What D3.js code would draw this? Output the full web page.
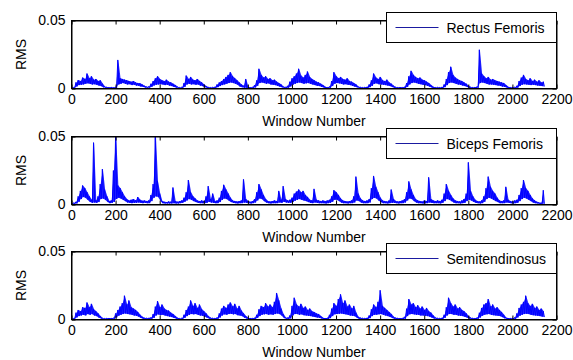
<!DOCTYPE html>
<html lang="en">
<head>
    <meta charset="UTF-8">
    <title>RMS per window | D3</title>
    <style>
        body { margin: 0; background: #fff; }
        svg { display: block; font-family: "Liberation Sans", Arial, sans-serif; }
    </style>
</head>
<body>
    <div class="graph-container"></div>

    <script type="text/javascript" src="https://d3js.org/d3.v7.min.js"></script>
    <script type="text/javascript">
        // RMS, in units of 1e-4 (100 = 0.01).
        // One pair every 10 windows: top of the band (hi) at window w, bottom (lo) at w + 5.
        var windowStep = 10;
        var rmsUnit = 1e-4;

        var rectusHi = [
            5, 8, 45, 62, 55, 80, 70, 110, 75, 90,
            65, 70, 55, 60, 35, 15, 10, 8, 9, 7,
            12, 210, 75, 70, 65, 60, 55, 50, 55, 45,
            40, 38, 30, 20, 12, 15, 35, 55, 75, 90,
            70, 60, 55, 65, 50, 45, 35, 25, 12, 8,
            10, 40, 95, 70, 85, 65, 60, 70, 55, 45,
            30, 18, 10, 8, 9, 12, 30, 45, 55, 70,
            85, 100, 120, 90, 75, 60, 45, 30, 20, 70,
            12, 8, 10, 25, 60, 145, 100, 80, 90, 70,
            75, 60, 65, 50, 40, 30, 15, 10, 20, 50,
            75, 90, 110, 145, 95, 80, 100, 125, 85, 70,
            60, 50, 45, 35, 25, 12, 8, 15, 55, 120,
            90, 75, 85, 70, 65, 75, 55, 50, 40, 30,
            15, 10, 8, 9, 12, 30, 60, 110, 80, 70,
            85, 60, 55, 65, 45, 35, 20, 10, 8, 9,
            8, 12, 40, 90, 130, 100, 85, 75, 80, 65,
            60, 50, 40, 25, 12, 8, 9, 8, 10, 30,
            70, 120, 160, 100, 80, 70, 60, 55, 45, 35,
            20, 10, 8, 9, 15, 285, 110, 90, 75, 85,
            65, 70, 60, 55, 50, 45, 40, 25, 12, 8,
            9, 10, 20, 55, 80, 100, 70, 60, 75, 55,
            65, 50, 60, 45, 50
        ];
        var rectusLo = [
            3, 4, 15, 25, 28, 30, 35, 38, 35, 30,
            32, 28, 22, 18, 10, 6, 4, 3, 3, 3,
            5, 30, 35, 40, 35, 30, 32, 25, 28, 22,
            20, 15, 12, 8, 5, 6, 12, 22, 28, 30,
            32, 30, 25, 28, 22, 18, 12, 8, 5, 3,
            4, 12, 30, 35, 30, 32, 28, 30, 22, 18,
            10, 6, 4, 3, 3, 5, 10, 18, 25, 30,
            35, 40, 45, 40, 35, 28, 15, 10, 6, 5,
            4, 3, 4, 8, 20, 40, 45, 40, 35, 38,
            30, 28, 25, 20, 15, 10, 5, 4, 6, 15,
            28, 35, 40, 45, 40, 35, 38, 40, 35, 30,
            25, 20, 18, 12, 8, 4, 3, 5, 18, 35,
            40, 38, 35, 30, 32, 28, 25, 20, 15, 10,
            5, 4, 3, 3, 4, 10, 20, 35, 38, 32,
            30, 28, 25, 22, 18, 12, 6, 4, 3, 3,
            3, 4, 12, 30, 40, 45, 40, 35, 32, 28,
            25, 20, 15, 8, 4, 3, 3, 3, 4, 10,
            25, 40, 45, 40, 35, 30, 28, 22, 18, 12,
            6, 4, 3, 3, 5, 40, 45, 40, 35, 30,
            30, 28, 25, 22, 20, 15, 12, 8, 4, 3,
            3, 3, 6, 18, 28, 32, 30, 28, 25, 28,
            25, 22, 20, 18, 15
        ];

        var bicepsHi = [
            10, 12, 20, 60, 100, 140, 120, 90, 60, 35,
            455, 30, 60, 150, 260, 110, 60, 25, 30, 250,
            520, 140, 120, 90, 60, 40, 30, 35, 40, 30,
            55, 35, 28, 30, 25, 30, 70, 150, 520, 170,
            80, 25, 20, 18, 22, 20, 125, 25, 20, 25,
            30, 50, 90, 180, 90, 60, 45, 30, 25, 30,
            25, 60, 135, 40, 80, 25, 30, 50, 100, 145,
            110, 80, 50, 30, 25, 22, 25, 30, 185, 40,
            25, 20, 25, 40, 90, 150, 110, 70, 40, 25,
            22, 25, 30, 25, 100, 35, 135, 40, 30, 35,
            50, 80, 95, 110, 90, 100, 70, 55, 35, 30,
            115, 35, 30, 25, 30, 25, 30, 35, 60, 105,
            90, 70, 45, 30, 25, 22, 25, 30, 60, 205,
            80, 45, 30, 25, 30, 40, 120, 210, 130, 90,
            50, 30, 25, 22, 30, 110, 40, 25, 22, 25,
            30, 40, 90, 170, 110, 70, 40, 30, 25, 22,
            30, 25, 200, 40, 30, 25, 30, 25, 35, 80,
            150, 100, 70, 45, 30, 25, 22, 30, 40, 80,
            310, 100, 60, 35, 25, 22, 30, 60, 120, 205,
            130, 100, 80, 50, 30, 25, 30, 130, 35, 25,
            22, 30, 35, 70, 120, 180, 120, 100, 70, 45,
            30, 20, 15, 12, 105
        ];
        var bicepsLo = [
            5, 6, 8, 20, 40, 55, 50, 35, 20, 12,
            15, 12, 18, 40, 45, 35, 20, 10, 12, 20,
            40, 50, 45, 35, 25, 15, 12, 10, 12, 12,
            15, 12, 10, 12, 10, 10, 25, 50, 60, 55,
            30, 10, 8, 8, 8, 8, 10, 8, 8, 10,
            12, 20, 30, 40, 35, 25, 18, 12, 10, 10,
            10, 12, 20, 15, 12, 10, 10, 18, 35, 45,
            40, 30, 18, 12, 10, 8, 10, 10, 15, 12,
            10, 8, 10, 15, 30, 45, 40, 25, 15, 10,
            8, 10, 10, 10, 15, 12, 20, 15, 12, 12,
            18, 28, 35, 40, 35, 30, 25, 18, 12, 10,
            15, 12, 10, 10, 10, 8, 10, 12, 20, 35,
            35, 25, 15, 10, 10, 8, 10, 10, 15, 30,
            25, 15, 10, 10, 10, 15, 40, 50, 45, 30,
            18, 10, 10, 8, 10, 12, 12, 10, 8, 10,
            10, 15, 30, 45, 40, 25, 15, 10, 10, 8,
            10, 10, 15, 12, 10, 10, 10, 8, 12, 25,
            40, 35, 25, 15, 10, 10, 8, 10, 12, 25,
            35, 30, 20, 12, 10, 8, 10, 20, 40, 50,
            45, 35, 25, 18, 10, 10, 10, 15, 12, 10,
            8, 10, 12, 25, 40, 50, 45, 35, 25, 15,
            10, 8, 5, 5, 5
        ];

        var semiHi = [
            5, 8, 50, 70, 60, 90, 85, 125, 90, 115,
            75, 60, 45, 25, 10, 8, 9, 10, 9, 12,
            45, 70, 95, 120, 175, 110, 140, 90, 80, 70,
            55, 35, 20, 12, 10, 12, 15, 40, 95, 135,
            90, 110, 80, 70, 65, 50, 40, 25, 12, 8,
            10, 35, 70, 95, 140, 100, 120, 85, 110, 75,
            60, 45, 25, 12, 10, 9, 15, 45, 80, 100,
            85, 110, 125, 95, 115, 80, 100, 65, 45, 25,
            12, 10, 9, 12, 35, 75, 100, 90, 120, 95,
            110, 90, 130, 195, 140, 80, 40, 15, 12, 30,
            100, 160, 110, 95, 115, 85, 95, 70, 80, 60,
            55, 45, 40, 25, 12, 10, 12, 35, 80, 120,
            100, 150, 185, 120, 140, 95, 110, 80, 100, 50,
            20, 12, 10, 9, 12, 30, 75, 110, 90, 130,
            215, 100, 85, 70, 55, 40, 20, 12, 10, 9,
            10, 20, 80, 150, 110, 120, 90, 105, 80, 95,
            70, 85, 60, 50, 30, 15, 10, 9, 12, 35,
            90, 160, 120, 95, 110, 80, 90, 70, 60, 45,
            25, 12, 10, 9, 15, 50, 85, 110, 120, 150,
            95, 110, 80, 90, 70, 55, 35, 15, 10, 9,
            10, 15, 45, 85, 110, 130, 175, 120, 100, 115,
            85, 95, 70, 80, 60
        ];
        var semiLo = [
            3, 4, 15, 25, 30, 35, 30, 40, 35, 40,
            30, 25, 15, 8, 4, 3, 3, 4, 3, 5,
            15, 28, 35, 40, 45, 40, 38, 35, 30, 28,
            22, 12, 6, 4, 3, 4, 5, 12, 30, 38,
            32, 35, 30, 25, 22, 18, 12, 8, 4, 3,
            4, 12, 25, 35, 40, 38, 40, 35, 30, 28,
            22, 15, 8, 4, 3, 3, 5, 15, 30, 38,
            35, 40, 42, 38, 40, 32, 30, 25, 15, 8,
            4, 3, 3, 4, 12, 25, 35, 38, 40, 35,
            38, 35, 40, 45, 40, 30, 12, 5, 4, 8,
            30, 40, 40, 35, 38, 32, 30, 28, 25, 22,
            18, 15, 12, 8, 4, 3, 4, 10, 25, 38,
            40, 42, 45, 40, 38, 35, 30, 28, 25, 15,
            6, 4, 3, 3, 4, 10, 25, 35, 35, 38,
            40, 35, 30, 25, 20, 12, 6, 4, 3, 3,
            4, 6, 25, 38, 40, 38, 35, 35, 30, 30,
            28, 25, 22, 15, 8, 5, 3, 3, 4, 12,
            30, 40, 40, 35, 35, 30, 28, 25, 20, 15,
            8, 4, 3, 3, 5, 15, 28, 35, 38, 40,
            35, 32, 30, 28, 25, 18, 10, 5, 3, 3,
            3, 5, 15, 28, 35, 40, 42, 40, 35, 32,
            30, 28, 25, 22, 18
        ];

        var muscleNames = ["Rectus Femoris", "Biceps Femoris", "Semitendinosus"];
        var xTickValues = [0, 200, 400, 600, 800, 1000, 1200, 1400, 1600, 1800, 2000, 2200];
        var yTickValues = [0, 0.05];
        var yTickLabels = ["0", "0.05"];

        var canvasWidth = 573;
        var canvasHeight = 360;
        var plotLeft = 71;
        var plotWidth = 485;
        var plotHeight = 68;
        var panelTops = [20, 136, 251];
        var lineColor = "#0000ff";
        var fontSize = "14px";

        var panels = [
            { name: muscleNames[0], hi: rectusHi, lo: rectusLo },
            { name: muscleNames[1], hi: bicepsHi, lo: bicepsLo },
            { name: muscleNames[2], hi: semiHi, lo: semiLo }
        ];

        // zig-zag through top and bottom of the band so it renders like the dense trace
        function toPoints(hi, lo) {
            var pts = [];
            hi.forEach(function(h, i) {
                pts.push([i * windowStep, h * rmsUnit]);
                pts.push([i * windowStep + windowStep / 2, lo[i] * rmsUnit]);
            });
            return pts;
        }

        var x = d3.scaleLinear().domain([0, 2200]).range([0, plotWidth]);
        var y = d3.scaleLinear().domain([0, 0.05]).range([plotHeight, 0]);

        var line = d3.line()
            .x(function(d) { return x(d[0]); })
            .y(function(d) { return y(d[1]); });

        // filled band between the lower and upper edge of the noisy trace
        var band = d3.area()
            .x(function(d, i) { return x(i * windowStep + windowStep / 4); })
            .y0(function(d) { return y(d[1] * rmsUnit); })
            .y1(function(d) { return y(d[0] * rmsUnit); });

        var svgCanvas = d3.select(".graph-container")
            .append("svg")
            .attr("width", canvasWidth)
            .attr("height", canvasHeight);

        svgCanvas.append("rect")
            .attr("width", canvasWidth)
            .attr("height", canvasHeight)
            .attr("fill", "#fff");

        svgCanvas.append("defs").append("clipPath")
            .attr("id", "plot-clip")
            .append("rect")
            .attr("width", plotWidth)
            .attr("height", plotHeight);

        panels.forEach(function(p, k) {
            var g = svgCanvas.append("g")
                .attr("transform", "translate(" + (plotLeft + 0.5) + "," + (panelTops[k] + 0.5) + ")");

            var plot = g.append("g").attr("clip-path", "url(#plot-clip)");

            plot.append("path")
                .datum(d3.zip(p.hi, p.lo))
                .attr("fill", lineColor)
                .attr("fill-opacity", 0.85)
                .attr("stroke", "none")
                .attr("d", band);

            // data trace
            plot.append("path")
                .datum(toPoints(p.hi, p.lo))
                .attr("fill", "none")
                .attr("stroke", lineColor)
                .attr("stroke-width", 1)
                .attr("d", line);

            // axes, ticks pointing inwards like MATLAB
            var bottom = g.append("g")
                .attr("transform", "translate(0," + plotHeight + ")")
                .call(d3.axisBottom(x).tickValues(xTickValues).tickSizeInner(-4).tickSizeOuter(0).tickPadding(6)
                    .tickFormat(d3.format("d")));
            var topAxis = g.append("g")
                .call(d3.axisTop(x).tickValues(xTickValues).tickSizeInner(-4).tickSizeOuter(0).tickFormat(""));
            var left = g.append("g")
                .call(d3.axisLeft(y).tickValues(yTickValues).tickSizeInner(-4).tickSizeOuter(0).tickPadding(6)
                    .tickFormat(function(d, i) { return yTickLabels[i]; }));
            var right = g.append("g")
                .attr("transform", "translate(" + plotWidth + ",0)")
                .call(d3.axisRight(y).tickValues(yTickValues).tickSizeInner(-4).tickSizeOuter(0).tickFormat(""));

            [bottom, topAxis, left, right].forEach(function(a) {
                a.selectAll("text")
                    .attr("fill", "#000")
                    .style("font-size", fontSize)
                    .style("font-family", "'Liberation Sans', Arial, sans-serif");
                a.selectAll("line, path").attr("stroke", "#000");
            });

            g.append("rect")
                .attr("width", plotWidth)
                .attr("height", plotHeight)
                .attr("fill", "none")
                .attr("stroke", "#000");

            g.append("text")
                .attr("transform", "translate(-46," + (plotHeight / 2) + ") rotate(-90)")
                .attr("text-anchor", "middle")
                .style("font-size", fontSize)
                .text("RMS");

            g.append("text")
                .attr("x", plotWidth / 2)
                .attr("y", plotHeight + 37)
                .attr("text-anchor", "middle")
                .style("font-size", fontSize)
                .text("Window Number");

            // legend, top right, overlapping the upper edge of the axes
            var legend = g.append("g")
                .attr("transform", "translate(" + (plotWidth - 170) + ",-8)");
            legend.append("rect")
                .attr("width", 170)
                .attr("height", 30)
                .attr("fill", "#fff")
                .attr("stroke", "#000");
            legend.append("line")
                .attr("x1", 9).attr("x2", 52)
                .attr("y1", 15).attr("y2", 15)
                .attr("stroke", "#1a1aa0");
            legend.append("text")
                .attr("x", 60)
                .attr("y", 20)
                .style("font-size", fontSize)
                .text(p.name);
        });
    </script>
</body>
</html>
